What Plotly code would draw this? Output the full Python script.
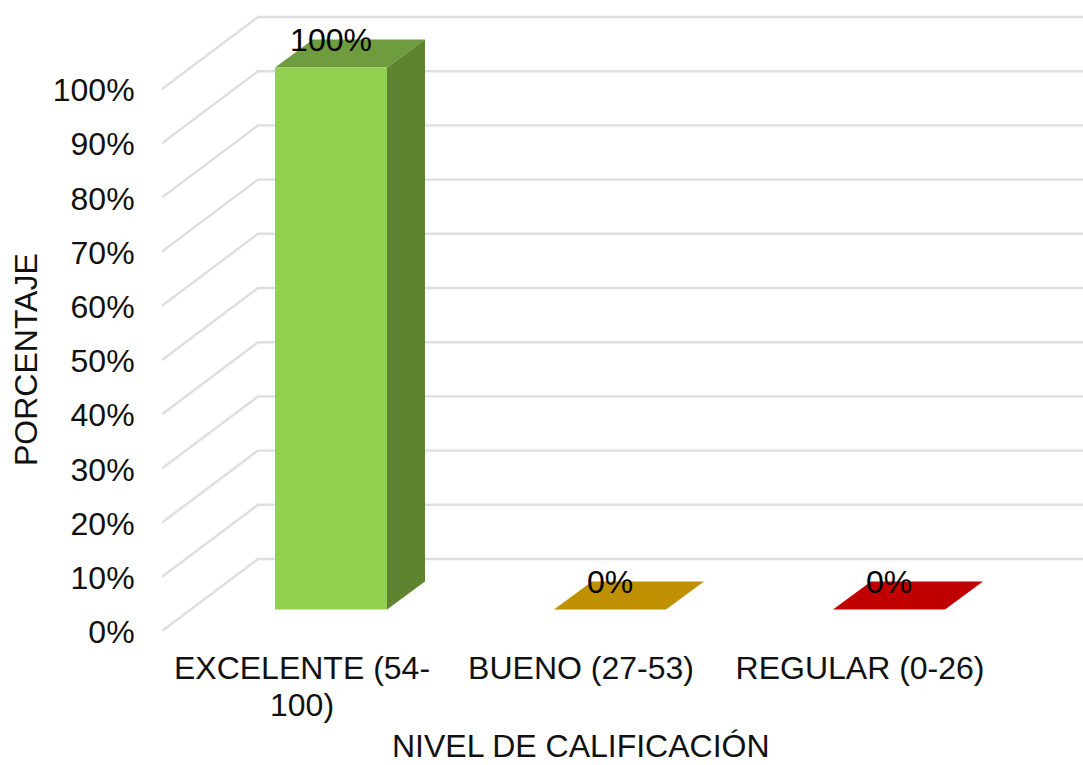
import plotly.graph_objects as go

categories = ["EXCELENTE (54-<br>100)", "BUENO (27-53)", "REGULAR (0-26)"]
percentages = [100, 0, 0]
tick_values = [0, 10, 20, 30, 40, 50, 60, 70, 80, 90, 100]
front_colors = ["#92D050", "#BF9000", "#C00000"]
top_colors = ["#6F9C3E", "#BF9000", "#C00000"]
side_colors = ["#5E8431", "#8F6C00", "#900000"]

FONT = "Liberation Sans, Arial, sans-serif"
FONT_SIZE = 32
TEXT_COLOR = "#111111"
WIDTH, HEIGHT = 1083, 765
LEFT, BOTTOM = 162, 134

# Scales of the oblique projection, in axis units.
PX_PER_CATEGORY = 279
PX_PER_PERCENT = 5.42
X_RANGE = [-(302 - LEFT) / PX_PER_CATEGORY, (WIDTH - 302) / PX_PER_CATEGORY]
Y_RANGE = [0, (HEIGHT - BOTTOM) / PX_PER_PERCENT]
WALL_DX = 96 / PX_PER_CATEGORY
WALL_DY = 72 / PX_PER_PERCENT
BAR_HALF = 56 / PX_PER_CATEGORY
BAR_SHIFT = 29 / PX_PER_CATEGORY
BAR_LIFT = 21.5 / PX_PER_PERCENT
BAR_DX = 38 / PX_PER_CATEGORY
BAR_DY = 28 / PX_PER_PERCENT
LABEL_DROP = 3 / PX_PER_PERCENT


def polygon(xs, ys, color):
    return go.Scatter(x=xs + xs[:1], y=ys + ys[:1], mode="lines", fill="toself",
                      fillcolor=color, line=dict(width=0), hoverinfo="skip")


fig = go.Figure()

# Floor/side diagonals joined to the back wall lines.
grid_x, grid_y = [], []
for v in tick_values:
    grid_x += [X_RANGE[0], X_RANGE[0] + WALL_DX, X_RANGE[1], None]
    grid_y += [v, v + WALL_DY, v + WALL_DY, None]
fig.add_trace(go.Scatter(x=grid_x, y=grid_y, mode="lines",
                         line=dict(color="#DEDEDE", width=2.4), hoverinfo="skip"))

# Each bar: top and side faces behind the front face.
for i, value in enumerate(percentages):
    x0 = i + BAR_SHIFT - BAR_HALF
    x1 = i + BAR_SHIFT + BAR_HALF
    y0 = BAR_LIFT
    y1 = BAR_LIFT + value
    fig.add_trace(polygon([x0, x1, x1 + BAR_DX, x0 + BAR_DX],
                          [y1, y1, y1 + BAR_DY, y1 + BAR_DY], top_colors[i]))
    if value > 0:
        fig.add_trace(polygon([x1, x1 + BAR_DX, x1 + BAR_DX, x1],
                              [y0, y0 + BAR_DY, y1 + BAR_DY, y1], side_colors[i]))
        fig.add_trace(polygon([x0, x1, x1, x0], [y0, y0, y1, y1], front_colors[i]))

# Value labels sit on the rear edge of each bar's top face.
fig.add_trace(go.Scatter(
    x=[i + BAR_SHIFT for i in range(len(percentages))],
    y=[BAR_LIFT + v + BAR_DY - LABEL_DROP for v in percentages],
    mode="text",
    text=[f"{v}%" for v in percentages],
    textposition="middle center",
    textfont=dict(family=FONT, size=FONT_SIZE, color="#000000"),
    hoverinfo="skip",
))

# Wrapped category labels: first line on the axis, the rest set tighter below it.
title_font = dict(family=FONT, size=FONT_SIZE, color=TEXT_COLOR)
annotations = [
    dict(text="NIVEL DE CALIFICACIÓN", xref="x", x=1, yref="paper", y=0,
         yanchor="middle", yshift=-115, showarrow=False, font=title_font),
    dict(text="PORCENTAJE", xref="paper", x=0, xshift=-156, yref="y", y=50,
         textangle=-90, showarrow=False, font=title_font),
]
for i, label in enumerate(categories):
    for n, extra in enumerate(label.split("<br>")[1:], start=1):
        annotations.append(dict(text=extra, xref="x", x=i, yref="paper", y=0,
                                yanchor="middle", yshift=-37 - 37 * n,
                                showarrow=False, font=title_font))

fig.update_layout(
    width=WIDTH, height=HEIGHT,
    margin=dict(l=LEFT, r=0, t=0, b=BOTTOM, pad=0),
    paper_bgcolor="white", plot_bgcolor="white",
    showlegend=False,
    font=dict(family=FONT, size=FONT_SIZE, color=TEXT_COLOR),
    xaxis=dict(range=X_RANGE, showgrid=False, zeroline=False, showline=False,
               tickmode="array", tickvals=list(range(len(categories))),
               ticktext=[c.split("<br>")[0] for c in categories], ticks="outside", ticklen=9,
               tickcolor="rgba(0,0,0,0)", tickangle=0, automargin=False,
               tickfont=title_font),
    yaxis=dict(range=Y_RANGE, showgrid=False, zeroline=False, showline=False,
               tickmode="array", tickvals=tick_values,
               ticktext=[f"{v}%" for v in tick_values], ticks="outside", ticklen=20,
               ticklabelshift=1,
               tickcolor="rgba(0,0,0,0)", automargin=False,
               tickfont=title_font),
    annotations=annotations,
)

fig.write_html("out.html", config=dict(displayModeBar=False))
